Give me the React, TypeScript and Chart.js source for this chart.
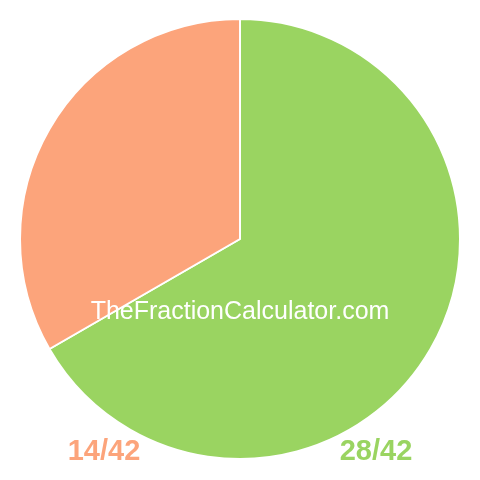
import React, { useEffect, useRef } from 'react';
import { Chart, registerables } from 'chart.js';

Chart.register(...registerables);

const labels = ['28/42', '14/42'];
const values = [28, 14];
const colors = ['#9AD461', '#FCA47B'];
const watermark = 'TheFractionCalculator.com';

const textPlugin = {
    id: 'fractionText',
    afterDraw(chart: Chart) {
        const ctx = chart.ctx;
        ctx.save();
        ctx.textAlign = 'center';
        ctx.textBaseline = 'alphabetic';
        ctx.fillStyle = '#ffffff';
        ctx.font = '25px "Liberation Sans", Arial, sans-serif';
        ctx.fillText(watermark, 240, 319);
        ctx.font = 'bold 29px "Liberation Sans", Arial, sans-serif';
        ctx.fillStyle = colors[1];
        ctx.fillText(labels[1], 104, 460);
        ctx.fillStyle = colors[0];
        ctx.fillText(labels[0], 376, 460);
        ctx.restore();
    }
};

const App = () => {
    const chartRef = useRef<HTMLCanvasElement | null>(null);

    useEffect(() => {
        document.body.style.margin = '0';
        let myChart: Chart<'pie', number[], string> | null = null;
        const canvas = chartRef.current;
        if (canvas) {
            const ctx = canvas.getContext('2d');
            if (ctx) {
                myChart = new Chart(ctx, {
                    type: 'pie',
                    data: {
                        labels: labels,
                        datasets: [{
                            data: values,
                            backgroundColor: colors,
                            borderColor: '#ffffff',
                            borderWidth: 2
                        }]
                    },
                    options: {
                        animation: false,
                        responsive: false,
                        devicePixelRatio: 1,
                        layout: { padding: { top: 18, bottom: 20, left: 18, right: 18 } },
                        plugins: {
                            legend: { display: false },
                            tooltip: { enabled: false }
                        }
                    },
                    plugins: [textPlugin]
                });
            }
        }
        return () => {
            if (myChart) {
                myChart.destroy();
            }
        };
    }, []);

    return <canvas ref={chartRef} width="480" height="480" style={{ display: 'block' }}></canvas>;
};

export default App;
